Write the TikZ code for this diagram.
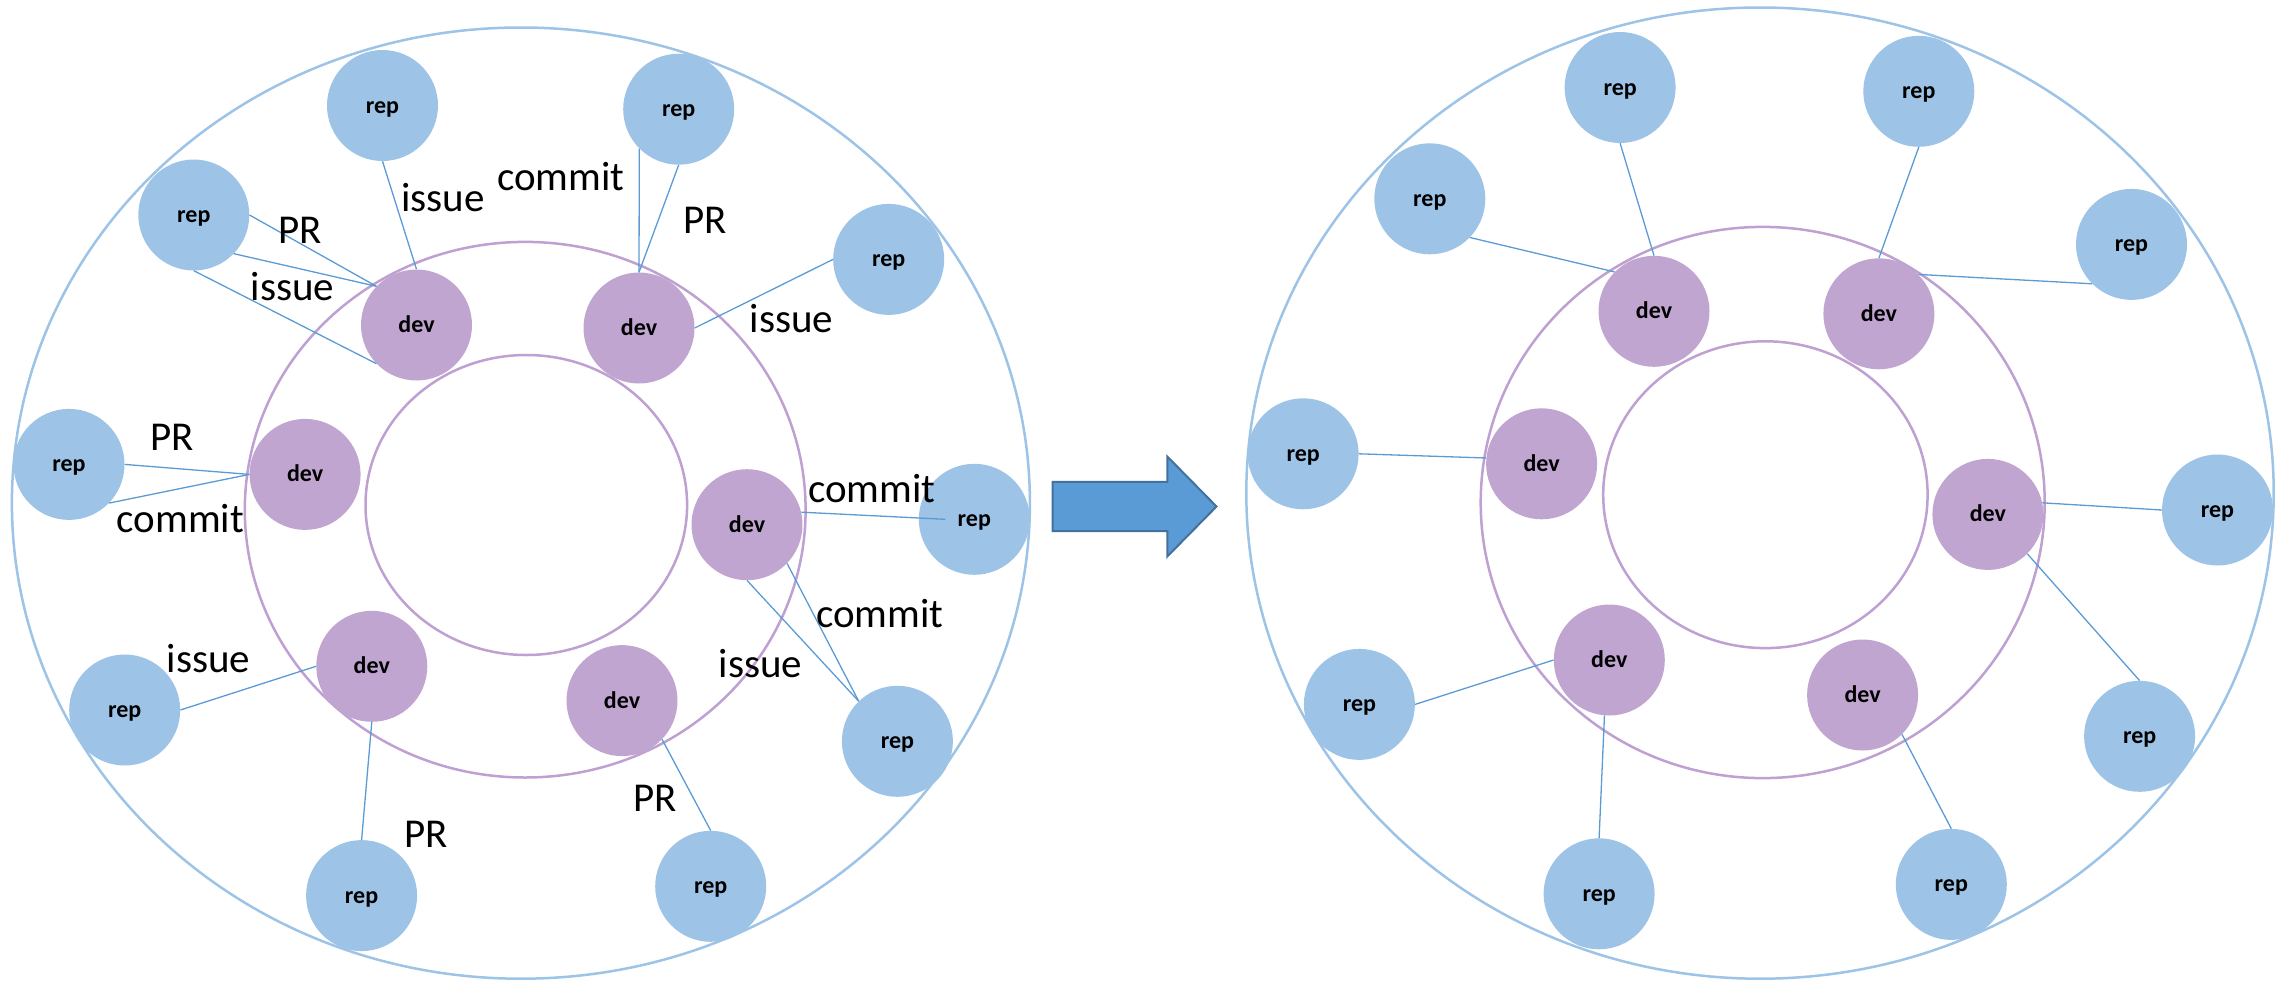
\documentclass[tikz,border=0pt]{standalone}
\usepackage{fontspec}
\setmainfont{Carlito}
\definecolor{repfill}{RGB}{157,195,230}
\definecolor{devfill}{RGB}{193,165,209}
\definecolor{ringblue}{RGB}{157,195,230}
\definecolor{ringpurple}{RGB}{190,160,210}
\definecolor{linkblue}{RGB}{91,155,213}
\definecolor{arrowfill}{RGB}{91,155,213}
\definecolor{arrowline}{RGB}{65,113,156}
\tikzset{
  repnode/.style={circle, fill=repfill, minimum size=111pt, inner sep=0pt, text height=19pt, text depth=4pt, font=\fontsize{24}{24}\selectfont\bfseries},
  devnode/.style={circle, fill=devfill, minimum size=111pt, inner sep=0pt, text height=19pt, text depth=4pt, font=\fontsize{24}{24}\selectfont\bfseries},
  link/.style={draw=linkblue, line width=1.3pt},
  lbl/.style={font=\fontsize{41}{41}\selectfont, inner sep=0pt},
  bluering/.style={draw=ringblue, line width=2.5pt},
  purplering/.style={draw=ringpurple, line width=2.5pt},
  bigarrow/.style={fill=arrowfill, draw=arrowline, line width=2pt, line join=miter}
}
\begin{document}
\begin{tikzpicture}[x=1pt,y=-1pt]
\useasboundingbox (0,0) rectangle (2292,980);
% ---------- left panel rings ----------
\draw[bluering] (520.9,503.1) ellipse [x radius=509pt, y radius=475.6pt];
\draw[purplering] (525.2,509.7) ellipse [x radius=280.4pt, y radius=267.8pt];
\draw[purplering] (526.3,505) ellipse [x radius=160.8pt, y radius=150pt];
% ---------- right panel rings ----------
\draw[bluering] (1760,493.1) ellipse [x radius=513.7pt, y radius=485.6pt];
\draw[purplering] (1762.7,502.5) ellipse [x radius=282pt, y radius=275.6pt];
\draw[purplering] (1765.4,494.7) ellipse [x radius=162.2pt, y radius=153.4pt];
% ---------- left nodes ----------
\node[repnode] (lr1) at (382.5,105.5) {rep};
\node[repnode] (lr2) at (678.7,109.2) {rep};
\node[repnode] (lr3) at (193.8,215) {rep};
\node[repnode] (lr4) at (888.7,259.4) {rep};
\node[repnode] (lr5) at (69,464.4) {rep};
\node[repnode] (lr6) at (974.3,519.3) {rep};
\node[repnode] (lr7) at (124.7,710) {rep};
\node[repnode] (lr8) at (897.4,741.3) {rep};
\node[repnode] (lr9) at (361.6,895.6) {rep};
\node[repnode] (lr10) at (710.7,886.3) {rep};
\node[devnode] (lda) at (416.5,325) {dev};
\node[devnode] (ldb) at (639,328) {dev};
\node[devnode] (ldc) at (305.1,474.4) {dev};
\node[devnode] (ldd) at (747,524.7) {dev};
\node[devnode] (lde) at (371.8,666.3) {dev};
\node[devnode] (ldf) at (622,700.6) {dev};
% ---------- right nodes ----------
\node[repnode] (rr1) at (1620.1,87.5) {rep};
\node[repnode] (rr2) at (1918.8,91.3) {rep};
\node[repnode] (rr3) at (1429.8,198.8) {rep};
\node[repnode] (rr4) at (2131.5,244.4) {rep};
\node[repnode] (rr5) at (1303.1,453.8) {rep};
\node[repnode] (rr6) at (2217.5,510) {rep};
\node[repnode] (rr7) at (1359.4,704.4) {rep};
\node[repnode] (rr8) at (2139.6,736.3) {rep};
\node[repnode] (rr9) at (1599.1,893.8) {rep};
\node[repnode] (rr10) at (1951.3,884.4) {rep};
\node[devnode] (rda) at (1654,311.3) {dev};
\node[devnode] (rdb) at (1878.9,313.8) {dev};
\node[devnode] (rdc) at (1541.6,463.8) {dev};
\node[devnode] (rdd) at (1987.9,514.4) {dev};
\node[devnode] (rde) at (1609.3,660) {dev};
\node[devnode] (rdf) at (1862.6,695) {dev};
% ---------- left connectors ----------
\draw[link] (lr1.south) -- (lda.north);
\draw[link] (lr3.east) -- (lda.136);
\draw[link] (lr3.-44) -- (lda.136);
\draw[link] (lr3.south) -- (lda.224);
\draw[link] (lr2.225) -- (ldb.north);
\draw[link] (lr2.south) -- (ldb.north);
\draw[link] (lr4.west) -- (ldb.east);
\draw[link] (lr5.east) -- (ldc.west);
\draw[link] (lr5.-44) -- (ldc.west);
\draw[link] (ldd.13) -- ([xshift=-29pt]lr6.center);
\draw[link] (ldd.-44) -- (lr8.134);
\draw[link] (ldd.south) -- (lr8.134);
\draw[link] (lr7.east) -- (lde.west);
\draw[link] (lde.south) -- (lr9.north);
\draw[link] (ldf.-44) -- (lr10.north);
% ---------- left labels ----------
\node[lbl] (t1) at (443,198) {issue};
\node[lbl] (t2) at (561,176.7) {commit};
\node[lbl] (t3) at (705,220) {PR};
\node[lbl] (t4) at (300,230) {PR};
\node[lbl] (t5) at (292.7,286.7) {issue};
\node[lbl] (t6) at (791.7,318.3) {issue};
\node[lbl] (t7) at (171.8,437.5) {PR};
\node[lbl] (t8) at (180.4,518.8) {commit};
\node[lbl] (t9) at (872,488.5) {commit};
\node[lbl] (t10) at (880,613.5) {commit};
\node[lbl] (t11) at (760.5,663.5) {issue};
\node[lbl] (t12) at (208.7,658.8) {issue};
\node[lbl] (t13) at (425.9,834.4) {PR};
\node[lbl] (t14) at (655,798) {PR};
% ---------- right connectors ----------
\draw[link] (rr1.south) -- (rda.north);
\draw[link] (rr3.-44) -- (rda.135);
\draw[link] (rr2.south) -- (rdb.north);
\draw[link] (rdb.45) -- (rr4.225);
\draw[link] (rr5.east) -- (rdc.174);
\draw[link] (rdd.12) -- (rr6.west);
\draw[link] (rdd.-45) -- (rr8.north);
\draw[link] (rr7.east) -- (rde.west);
\draw[link] (rde.265) -- (rr9.north);
\draw[link] (rdf.-45) -- (rr10.north);
% ---------- arrow ----------
\draw[bigarrow] (1052.5,481.8) -- (1167.3,481.8) -- (1167.3,456.5) -- (1216.5,506.5)
  -- (1167.3,556.5) -- (1167.3,531) -- (1052.5,531) -- cycle;
\end{tikzpicture}
\end{document}
